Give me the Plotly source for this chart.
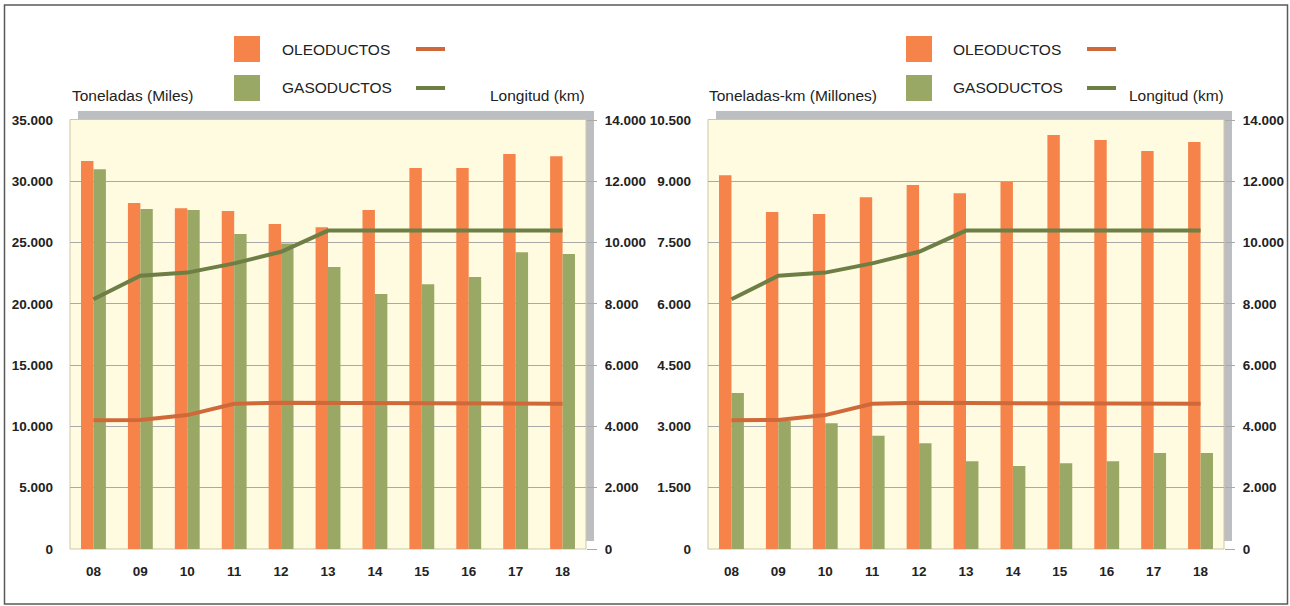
import plotly.graph_objects as go

# ---------------- data ----------------
years = ["08", "09", "10", "11", "12", "13", "14", "15", "16", "17", "18"]

toneladas_oleoductos = [31650, 28220, 27810, 27570, 26510, 26260, 27650, 31080, 31080, 32220, 32050]
toneladas_gasoductos = [30990, 27730, 27650, 25690, 24930, 23000, 20800, 21600, 22190, 24220, 24060]

tonkm_oleoductos = [9150, 8250, 8200, 8610, 8910, 8710, 8980, 10130, 10010, 9740, 9960]
tonkm_gasoductos = [3820, 3130, 3080, 2770, 2590, 2150, 2030, 2100, 2150, 2350, 2350]

longitud_oleoductos = [4200, 4210, 4370, 4740, 4770, 4760, 4760, 4760, 4760, 4750, 4740]
longitud_gasoductos = [8150, 8920, 9020, 9320, 9700, 10390, 10390, 10390, 10390, 10390, 10390]

ticks_ton = [0, 5000, 10000, 15000, 20000, 25000, 30000, 35000]
ticks_ton_text = ["0", "5.000", "10.000", "15.000", "20.000", "25.000", "30.000", "35.000"]
ticks_tkm = [0, 1500, 3000, 4500, 6000, 7500, 9000, 10500]
ticks_tkm_text = ["0", "1.500", "3.000", "4.500", "6.000", "7.500", "9.000", "10.500"]
ticks_long = [0, 2000, 4000, 6000, 8000, 10000, 12000, 14000]
ticks_long_text = ["0", "2.000", "4.000", "6.000", "8.000", "10.000", "12.000", "14.000"]

# ---------------- style ----------------
W, H = 1290, 606
C_OLEO_BAR = "#f5834a"
C_GAS_BAR = "#9aa865"
C_OLEO_LINE = "#d0693a"
C_GAS_LINE = "#6e7f45"
C_YELLOW = "#fefbe0"
C_SHADOW = "#bdbec2"
C_GRID = "#a9a9a9"
TICK_FONT = dict(family="Liberation Sans, Arial", size=13.5, color="#222222", weight="bold")
TEXT_FONT = dict(family="Liberation Sans, Arial", size=15.5, color="#222222")


def px(x):
    return x / W


def py(y):
    return 1 - y / H


fig = go.Figure()

# left panel
fig.add_trace(go.Bar(x=years, y=toneladas_oleoductos, marker=dict(color=C_OLEO_BAR, line=dict(width=0)),
                     xaxis="x", yaxis="y", name="OLEODUCTOS"))
fig.add_trace(go.Bar(x=years, y=toneladas_gasoductos, marker=dict(color=C_GAS_BAR, line=dict(width=0)),
                     xaxis="x", yaxis="y", name="GASODUCTOS"))
fig.add_trace(go.Scatter(x=years, y=longitud_oleoductos, mode="lines", line=dict(color=C_OLEO_LINE, width=4),
                         xaxis="x", yaxis="y2"))
fig.add_trace(go.Scatter(x=years, y=longitud_gasoductos, mode="lines", line=dict(color=C_GAS_LINE, width=4),
                         xaxis="x", yaxis="y2"))

# right panel
fig.add_trace(go.Bar(x=years, y=tonkm_oleoductos, marker=dict(color=C_OLEO_BAR, line=dict(width=0)),
                     xaxis="x2", yaxis="y3"))
fig.add_trace(go.Bar(x=years, y=tonkm_gasoductos, marker=dict(color=C_GAS_BAR, line=dict(width=0)),
                     xaxis="x2", yaxis="y3"))
fig.add_trace(go.Scatter(x=years, y=longitud_oleoductos, mode="lines", line=dict(color=C_OLEO_LINE, width=4),
                         xaxis="x2", yaxis="y4"))
fig.add_trace(go.Scatter(x=years, y=longitud_gasoductos, mode="lines", line=dict(color=C_GAS_LINE, width=4),
                         xaxis="x2", yaxis="y4"))

dom_x1 = [px(70), px(586)]
dom_x2 = [px(708), px(1224)]
dom_y = [py(549), py(120)]

xaxis_common = dict(type="category", showgrid=False, zeroline=False, showline=False, ticks="",
                    tickfont=TICK_FONT, ticklabelstandoff=12, automargin=False, fixedrange=True)
yleft_common = dict(showgrid=True, gridcolor=C_GRID, gridwidth=1, zeroline=False, showline=False,
                    ticks="", tickfont=TICK_FONT, ticklabelstandoff=16, automargin=False, domain=dom_y)
yright_common = dict(showgrid=False, zeroline=False, showline=False, side="right",
                     ticks="outside", ticklen=10, tickcolor=C_GRID, tickwidth=1,
                     tickvals=ticks_long, ticktext=ticks_long_text, range=[0, 14000],
                     tickfont=TICK_FONT, ticklabelstandoff=5, automargin=False)

fig.update_layout(
    width=W, height=H,
    template="none",
    margin=dict(l=0, r=0, t=0, b=0),
    paper_bgcolor="white",
    plot_bgcolor="rgba(0,0,0,0)",
    showlegend=False,
    barmode="group",
    bargap=0.47,
    bargroupgap=0,
    font=TEXT_FONT,
    xaxis=dict(domain=dom_x1, anchor="y", **xaxis_common),
    xaxis2=dict(domain=dom_x2, anchor="y3", **xaxis_common),
    yaxis=dict(anchor="x", range=[0, 35000], tickvals=ticks_ton, ticktext=ticks_ton_text, **yleft_common),
    yaxis2=dict(anchor="x", overlaying="y", **yright_common),
    yaxis3=dict(anchor="x2", range=[0, 10500], tickvals=ticks_tkm, ticktext=ticks_tkm_text, **yleft_common),
    yaxis4=dict(anchor="x2", overlaying="y3", **yright_common),
)

shapes = []
# outer frame
shapes.append(dict(type="rect", xref="paper", yref="paper", x0=px(4.5), x1=px(1287.5), y0=py(604), y1=py(5),
                   line=dict(color="#5a5a5a", width=1.5), fillcolor="rgba(0,0,0,0)", layer="below"))
for left in (70, 708):
    right = left + 516
    # gray shadow
    shapes.append(dict(type="rect", xref="paper", yref="paper", x0=px(left + 8), x1=px(right + 8),
                       y0=py(541), y1=py(111), line=dict(width=0), fillcolor=C_SHADOW, layer="below"))
    # yellow plot area
    shapes.append(dict(type="rect", xref="paper", yref="paper", x0=px(left), x1=px(right),
                       y0=py(549), y1=py(119.5), line=dict(color="#cdc8a8", width=1),
                       fillcolor=C_YELLOW, layer="below"))

annotations = []


def legend_block(sq_x, txt_x, ln_x):
    for yc, bar_c, line_c, label in ((49, C_OLEO_BAR, C_OLEO_LINE, "OLEODUCTOS"),
                                     (88, C_GAS_BAR, C_GAS_LINE, "GASODUCTOS")):
        shapes.append(dict(type="rect", xref="paper", yref="paper", x0=px(sq_x), x1=px(sq_x + 26),
                           y0=py(yc + 13), y1=py(yc - 13), line=dict(width=0), fillcolor=bar_c))
        shapes.append(dict(type="line", xref="paper", yref="paper", x0=px(ln_x), x1=px(ln_x + 29),
                           y0=py(yc), y1=py(yc), line=dict(color=line_c, width=4)))
        annotations.append(dict(xref="paper", yref="paper", x=px(txt_x), y=py(yc), text=label,
                                showarrow=False, xanchor="left", yanchor="middle", font=TEXT_FONT))


legend_block(234, 280, 416)
legend_block(906, 951, 1087)

for x, txt, anchor in ((70, "Toneladas (Miles)", "left"), (587, "Longitud (km)", "right"),
                       (707, "Toneladas-km (Millones)", "left"), (1226, "Longitud (km)", "right")):
    annotations.append(dict(xref="paper", yref="paper", x=px(x), y=py(95), text=txt, showarrow=False,
                            xanchor=anchor, yanchor="middle", font=TEXT_FONT))

fig.update_layout(shapes=shapes, annotations=annotations)

fig.write_html(
    "out.html",
    config={"displayModeBar": False},
    post_script="document.body.style.margin='0px';document.documentElement.style.overflow='hidden';",
)
